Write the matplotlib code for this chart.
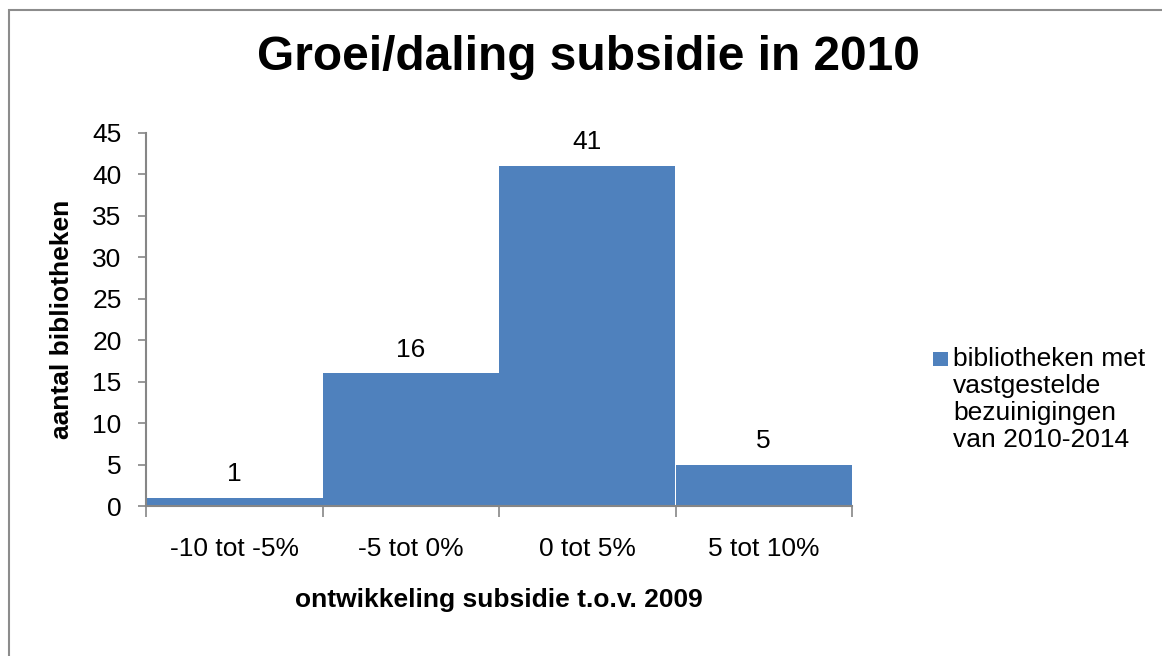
import matplotlib
matplotlib.use("Agg")
import matplotlib.pyplot as plt
from matplotlib.patches import Rectangle
import numpy as np

categories = ["-10 tot -5%", "-5 tot 0%", "0 tot 5%", "5 tot 10%"]
values = [1, 16, 41, 5]
series_name = "bibliotheken met\nvastgestelde\nbezuinigingen\nvan 2010-2014"
title = "Groei/daling subsidie in 2010"
xlabel = "ontwikkeling subsidie t.o.v. 2009"
ylabel = "aantal bibliotheken"
yticks = [0, 5, 10, 15, 20, 25, 30, 35, 40, 45]

plt.rcParams['font.family'] = ['Liberation Sans', 'DejaVu Sans']

W, H = 1162, 656
fig = plt.figure(figsize=(W / 100, H / 100), dpi=100)
fig.patch.set_facecolor("white")

# outer chart frame (left and top visible)
fig.add_artist(Rectangle((8.5 / W, -0.1), 1.2, 1 - 9.5 / H + 0.1,
                         transform=fig.transFigure, fill=False,
                         edgecolor="#8c8c8c", linewidth=1.5))

left, right = 146 / W, 852 / W
bottom, top = 1 - 506 / H, 1 - 133 / H
ax = fig.add_axes([left, bottom, right - left, top - bottom])

bar_color = "#4F81BD"
tick_fs = 19
x = np.arange(len(categories))
bars = ax.bar(x, values, width=1.0, color=bar_color, edgecolor="none",
              label=series_name)

ax.set_xlim(-0.5, len(categories) - 0.5)
ax.set_ylim(0, 45)
ax.set_yticks(yticks)
ax.set_yticklabels([str(v) for v in yticks], fontsize=tick_fs)
ax.set_xticks(x)
ax.set_xticklabels(categories, fontsize=tick_fs)
ax.tick_params(axis='x', length=0, pad=22)
ax.tick_params(axis='y', length=6, width=1.2, color="#868686", pad=11.5)

# category boundary ticks on x axis
ax.set_xticks(np.arange(len(categories) + 1) - 0.5, minor=True)
ax.tick_params(axis='x', which='minor', length=8, width=1.2,
               color="#868686", direction='out')

for s in ["top", "right"]:
    ax.spines[s].set_visible(False)
for s in ["left", "bottom"]:
    ax.spines[s].set_color("#868686")
    ax.spines[s].set_linewidth(1.5)

for xi, v in zip(x, values):
    ax.annotate(str(v), xy=(xi, v), xytext=(0, 8.5), textcoords='offset points',
                ha='center', va='bottom', fontsize=tick_fs)

ax.set_xlabel(xlabel, fontsize=19, fontweight='bold', labelpad=20)
ax.set_ylabel(ylabel, fontsize=19, fontweight='bold', labelpad=13)

fig.text(588 / W, 1 - 57 / H, title, ha='center', va='center',
         fontsize=34.5, fontweight='bold')

# legend
fig.add_artist(Rectangle((933 / W, 1 - 366 / H), 14.5 / W, 14.5 / H,
                         transform=fig.transFigure, facecolor=bar_color,
                         edgecolor="none"))
fig.text(953 / W, 1 - 347 / H, series_name, ha='left', va='top',
         fontsize=tick_fs, linespacing=1.15)

fig.savefig("out.png", dpi=100, facecolor="white")
